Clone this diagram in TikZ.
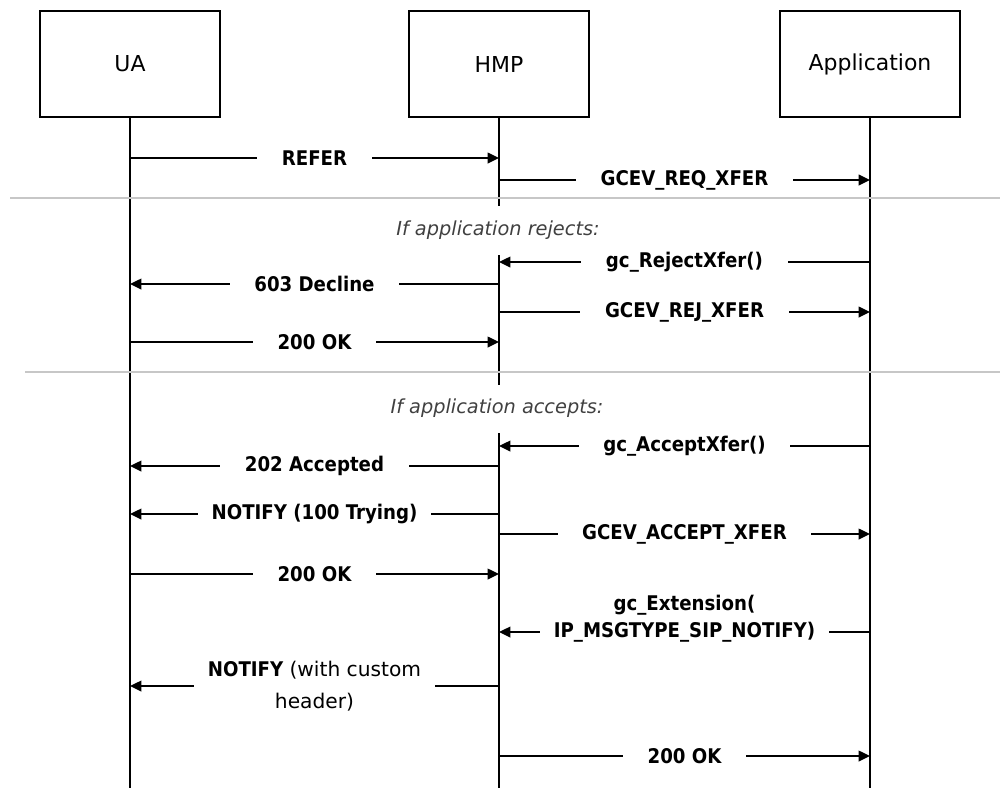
\documentclass[tikz,border=0pt]{standalone}
\usepackage{fontspec}
\setmainfont{DejaVu Sans}
\newfontfamily\lblfont{DejaVu Sans Condensed}
\usetikzlibrary{arrows.meta}

\begin{document}
\begin{tikzpicture}[
    x=0.02cm, y=-0.02cm,
    every node/.style={align=center},
    box/.style={rectangle, draw=black, line width=1.2pt, minimum width=3.6cm, minimum height=2.12cm, font=\fontsize{12.5}{14}\selectfont},
    life/.style={line width=1.2pt, black},
    sep/.style={line width=1.1pt, black!22},
    arr/.style={-{Triangle[length=6.5pt,width=6pt]}, line width=1.2pt, black},
    msg/.style={fill=white, inner xsep=14pt, inner ysep=1pt, font=\lblfont\bfseries\fontsize{11.5}{15}\selectfont},
    note/.style={font=\itshape\fontsize{11}{13}\selectfont, text=black!75}
]
\useasboundingbox (0,0) rectangle (1000,788);

% participants
\node[box] (ua)  at (130,64) {UA};
\node[box] (hmp) at (499,64) {HMP};
\node[box] (app) at (870,64) {Application};

% lifelines
\draw[life] (ua.south)  -- (ua |- 0,788);
\draw[life] (app.south) -- (app |- 0,788);
\draw[life] (hmp.south) -- (hmp |- 0,206);
\draw[life] (hmp |- 0,255) -- (hmp |- 0,385);
\draw[life] (hmp |- 0,433) -- (hmp |- 0,788);

% section separators
\draw[sep] (10,198) -- (1000,198);
\draw[sep] (25,372) -- (1000,372);

% transfer request
\draw[arr] (ua |- 0,158)  -- node[msg]{REFER} (hmp |- 0,158);
\draw[arr] (hmp |- 0,180) -- node[msg]{GCEV\_REQ\_XFER} (app |- 0,180);

% rejected
\node[note] (rej) at (498,230) {If application rejects:};
\draw[arr] (app |- 0,262) -- node[msg]{gc\_RejectXfer()} (hmp |- 0,262);
\draw[arr] (hmp |- 0,284) -- node[msg]{603 Decline} (ua |- 0,284);
\draw[arr] (hmp |- 0,312) -- node[msg]{GCEV\_REJ\_XFER} (app |- 0,312);
\draw[arr] (ua |- 0,342)  -- node[msg]{200 OK} (hmp |- 0,342);

% accepted
\node[note] (acc) at (497,408) {If application accepts:};
\draw[arr] (app |- 0,446) -- node[msg]{gc\_AcceptXfer()} (hmp |- 0,446);
\draw[arr] (hmp |- 0,466) -- node[msg]{202 Accepted} (ua |- 0,466);
\draw[arr] (hmp |- 0,514) -- node[msg, inner xsep=8pt]{NOTIFY (100 Trying)} (ua |- 0,514);
\draw[arr] (hmp |- 0,534) -- node[msg]{GCEV\_ACCEPT\_XFER} (app |- 0,534);
\draw[arr] (ua |- 0,574)  -- node[msg]{200 OK} (hmp |- 0,574);
\draw[arr] (app |- 0,632) -- node[msg, inner xsep=8pt, yshift=7.5pt]{gc\_Extension(\\IP\_MSGTYPE\_SIP\_NOTIFY)} (hmp |- 0,632);
\draw[arr] (hmp |- 0,686) -- node[msg, inner xsep=8pt]{NOTIFY {\normalfont\fontsize{11.5}{15}\selectfont(with custom}\\[3pt]{\normalfont\fontsize{11.5}{15}\selectfont header)}} (ua |- 0,686);
\draw[arr] (hmp |- 0,756) -- node[msg]{200 OK} (app |- 0,756);
\end{tikzpicture}
\end{document}
